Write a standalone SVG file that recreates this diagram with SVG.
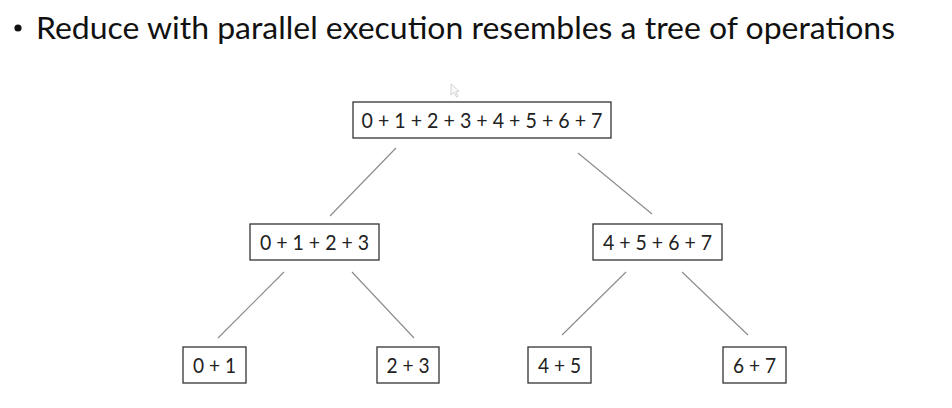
<svg xmlns="http://www.w3.org/2000/svg" width="952" height="408" viewBox="0 0 952 408">
  <style>
    .title { font-family: "Lato", "Open Sans", "Liberation Sans", sans-serif; font-size: 30px; fill: #111; }
    .box { fill: #ffffff; stroke: #333; stroke-width: 1.3; }
    .lbl { font-family: "Lato", "Open Sans", "Liberation Sans", sans-serif; font-size: 21px; fill: #222; text-anchor: middle; }
    .edge { stroke: #8a8a8a; stroke-width: 1.1; fill: none; }
  </style>
  <rect x="0" y="0" width="952" height="408" fill="#ffffff"/>

  <!-- heading bullet -->
  <circle cx="18" cy="28" r="3.6" fill="#111"/>
  <text class="title" x="36" y="39" textLength="859" lengthAdjust="spacingAndGlyphs">Reduce with parallel execution resembles a tree of operations</text>

  <!-- mouse pointer -->
  <path d="M451 84 L451 95 L454 92.5 L456.5 97 L458 96.2 L455.7 91.8 L459 91.3 Z" fill="#fafafa" stroke="#c8c8c8" stroke-width="0.8"/>

  <g id="connectors">
    <line class="edge" x1="396" y1="148" x2="330" y2="216"/>
    <line class="edge" x1="578" y1="153" x2="652" y2="214"/>
    <line class="edge" x1="284" y1="272" x2="218" y2="338"/>
    <line class="edge" x1="352" y1="272" x2="414" y2="338"/>
    <line class="edge" x1="626" y1="272" x2="562" y2="335"/>
    <line class="edge" x1="682" y1="272" x2="748" y2="335"/>
  </g>

  <g id="root">
    <rect class="box" x="353" y="102" width="258" height="36"/>
    <text class="lbl" x="482" y="128" textLength="241" lengthAdjust="spacingAndGlyphs">0 + 1 + 2 + 3 + 4 + 5 + 6 + 7</text>
  </g>
  <g id="left">
    <rect class="box" x="250" y="224" width="129" height="36"/>
    <text class="lbl" x="314.5" y="250" textLength="109" lengthAdjust="spacingAndGlyphs">0 + 1 + 2 + 3</text>
  </g>
  <g id="right">
    <rect class="box" x="593" y="224" width="129" height="36"/>
    <text class="lbl" x="657.5" y="250" textLength="109" lengthAdjust="spacingAndGlyphs">4 + 5 + 6 + 7</text>
  </g>
  <g id="leaf01">
    <rect class="box" x="183" y="347" width="63" height="36"/>
    <text class="lbl" x="214.5" y="373" textLength="43" lengthAdjust="spacingAndGlyphs">0 + 1</text>
  </g>
  <g id="leaf23">
    <rect class="box" x="377" y="347" width="62" height="36"/>
    <text class="lbl" x="408" y="373" textLength="43" lengthAdjust="spacingAndGlyphs">2 + 3</text>
  </g>
  <g id="leaf45">
    <rect class="box" x="528" y="347" width="63" height="36"/>
    <text class="lbl" x="559.5" y="373" textLength="43" lengthAdjust="spacingAndGlyphs">4 + 5</text>
  </g>
  <g id="leaf67">
    <rect class="box" x="723" y="347" width="63" height="36"/>
    <text class="lbl" x="754.5" y="373" textLength="43" lengthAdjust="spacingAndGlyphs">6 + 7</text>
  </g>
</svg>
